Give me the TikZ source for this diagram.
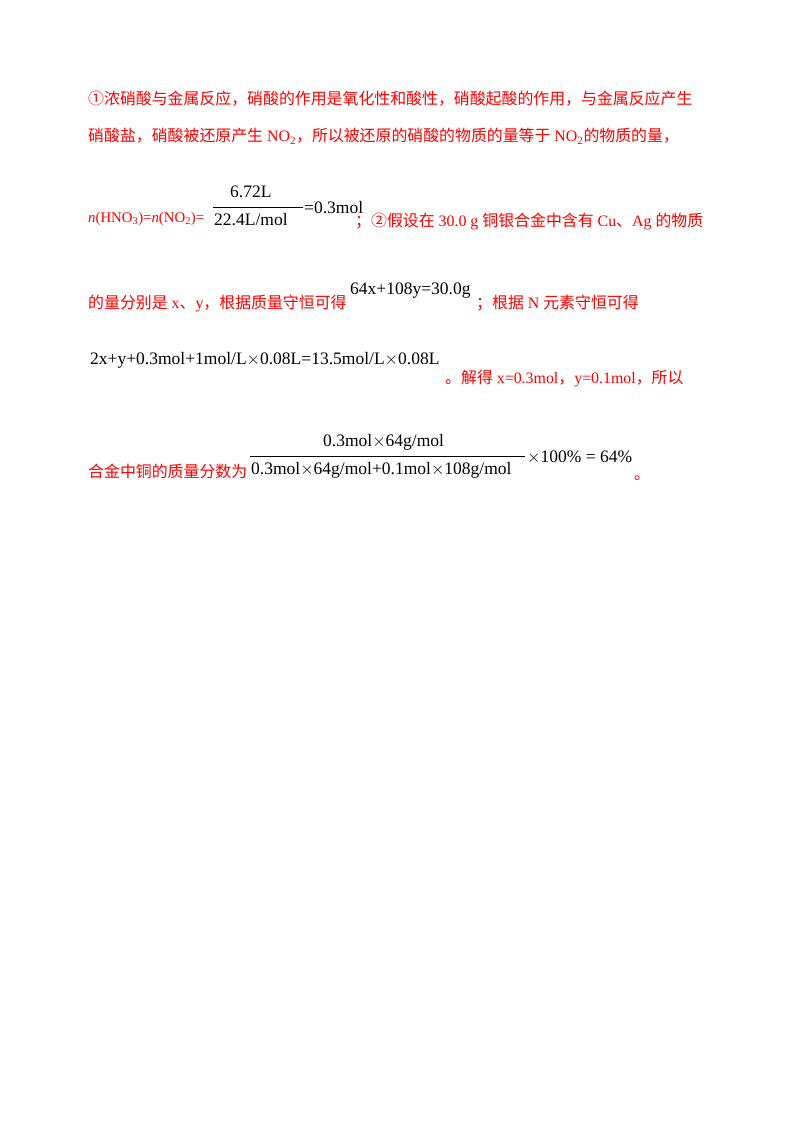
\documentclass[tikz,border=0pt]{standalone}
\usepackage{fontspec}
\setmainfont{Liberation Serif}
\newfontfamily\cjk{Noto Sans CJK SC}
\begin{document}
\begin{tikzpicture}[x=1pt,y=-1pt,
 r/.style={anchor=base west,inner sep=0,text=red,font=\fontsize{15.9}{16}\selectfont},
 b/.style={anchor=base west,inner sep=0,text=black,font=\fontsize{17.5}{16}\selectfont}]
\useasboundingbox (0,0) rectangle (800,1129);
\node[r] (l1) at (88,105) {{\cjk ①浓硝酸与金属反应，硝酸的作用是氧化性和酸性，硝酸起酸的作用，与金属反应产生}};
\node[r] (l2) at (88,142) {{\cjk 硝酸盐，硝酸被还原产生} NO\textsubscript{2}{\cjk ，所以被还原的硝酸的物质的量等于} NO\textsubscript{2}{\cjk 的物质的量，}};
\node[r,font=\fontsize{14.8}{15}\selectfont] (l3a) at (88,222) {\textit{n}(HNO\textsubscript{3})=\textit{n}(NO\textsubscript{2})=};
\node[b] (n1) at (230,197) {6.72L};
\draw (213,207) -- (303,207);
\node[b] (d1) at (214,225) {22.4L/mol};
\node[b] (e1) at (304,213) {=0.3mol};
\node[r] (l3b) at (355,226) {{\cjk ；②假设在} 30.0 g {\cjk 铜银合金中含有} Cu{\cjk 、}Ag {\cjk 的物质}};
\node[r] (l4a) at (88,308) {{\cjk 的量分别是} x{\cjk 、}y{\cjk ，根据质量守恒可得}};
\node[b] (e2) at (350,294) {64x+108y=30.0g};
\node[r] (l4b) at (476,308) {{\cjk ；根据} N {\cjk 元素守恒可得}};
\node[b] (e3) at (90,364) {2x+y+0.3mol+1mol/L$\times$0.08L=13.5mol/L$\times$0.08L};
\node[r] (l5) at (445,383) {{\cjk 。解得} x=0.3mol{\cjk ，}y=0.1mol{\cjk ，所以}};
\node[r] (l6) at (88,477) {{\cjk 合金中铜的质量分数为}};
\node[b] (n2) at (323,446) {0.3mol$\times$64g/mol};
\draw (250,456) -- (525,456);
\node[b] (d2) at (251,474) {0.3mol$\times$64g/mol+0.1mol$\times$108g/mol};
\node[b] (e4) at (527,462) {$\times$100\% = 64\%};
\node[r] (l6b) at (634,479) {{\cjk 。}};
\end{tikzpicture}
\end{document}
